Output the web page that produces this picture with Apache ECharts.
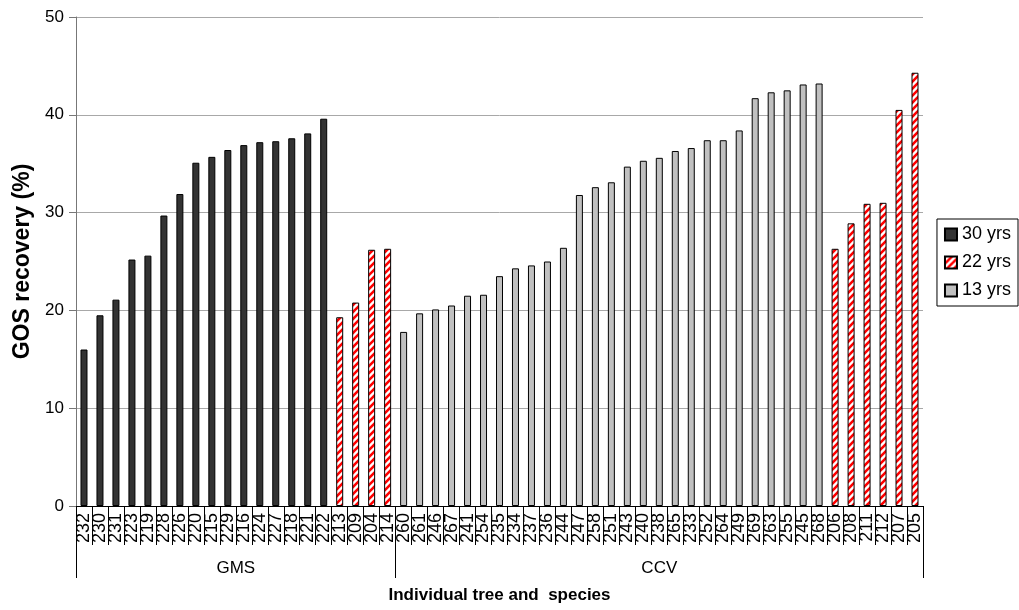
<!DOCTYPE html>
<html>
<head>
<meta charset="utf-8">
<script src="https://cdn.jsdelivr.net/npm/echarts@6/dist/echarts.min.js"></script>
<style>
  html, body { margin: 0; padding: 0; background: #fff; }
  #chart { width: 1019px; height: 610px; }
</style>
</head>
<body>
<div id="chart"></div>
<script>
// GMS trees
const gmsIds30 = ['232','230','231','223','219','228','226','220','215','229','216','224','227','218','221','222'];
const gmsVals30 = [16.0,19.5,21.1,25.2,25.6,29.7,31.9,35.1,35.7,36.4,36.9,37.2,37.3,37.6,38.1,39.6];
const gmsIds22 = ['213','209','204','214'];
const gmsVals22 = [19.3,20.8,26.2,26.3];
// CCV trees
const ccvIds13 = ['260','261','246','267','241','254','235','234','237','236','244','247','258','251','243','240','238','265','233','252','264','249','269','263','255','245','268'];
const ccvVals13 = [17.8,19.7,20.1,20.5,21.5,21.6,23.5,24.3,24.6,25.0,26.4,31.8,32.6,33.1,34.7,35.3,35.6,36.3,36.6,37.4,37.4,38.4,41.7,42.3,42.5,43.1,43.2];
const ccvIds22 = ['206','208','211','212','207','205'];
const ccvVals22 = [26.3,28.9,30.9,31.0,40.5,44.3];

const groupNames = ['GMS', 'CCV'];
const seriesNames = ['30 yrs', '22 yrs', '13 yrs'];
const yTicks = [0, 10, 20, 30, 40, 50];

const categories = [].concat(gmsIds30, gmsIds22, ccvIds13, ccvIds22);
const nCat = categories.length;
const groupSizes = [gmsIds30.length + gmsIds22.length, ccvIds13.length + ccvIds22.length];

// place a block of values at a given offset in a full-length column
function column(offset, vals) {
  const out = new Array(nCat).fill(null);
  vals.forEach((v, i) => { out[offset + i] = v; });
  return out;
}
const o1 = gmsIds30.length;
const o2 = o1 + gmsIds22.length;
const o3 = o2 + ccvIds13.length;
const ccv22Col = column(o3, ccvVals22);
const data30 = column(0, gmsVals30);
const data22 = column(o1, gmsVals22).map((v, i) => v !== null ? v : ccv22Col[i]);
const data13 = column(o2, ccvVals13);

// group boundaries and centres on a 0..nCat scale
const bounds = [0];
groupSizes.forEach(s => bounds.push(bounds[bounds.length - 1] + s));
const centres = groupNames.map((_, i) => (bounds[i] + bounds[i + 1]) / 2);

// red / white diagonal hatch
function hatch() {
  const s = 7;
  const c = document.createElement('canvas');
  c.width = s; c.height = s;
  const g = c.getContext('2d');
  g.fillStyle = '#ffffff';
  g.fillRect(0, 0, s, s);
  g.strokeStyle = '#ff0000';
  g.lineWidth = 2.6;
  g.beginPath();
  g.moveTo(-1, s + 1); g.lineTo(s + 1, -1);
  g.moveTo(-1, 1); g.lineTo(1, -1);
  g.moveTo(s - 1, s + 1); g.lineTo(s + 1, s - 1);
  g.stroke();
  return c;
}

const FONT = 'Liberation Sans, Arial, sans-serif';
const chart = echarts.init(document.getElementById('chart'), null, { renderer: 'canvas' });

const barBase = { type: 'bar', barWidth: 7, barGap: '-100%', animation: false };

chart.setOption({
  backgroundColor: '#ffffff',
  textStyle: { fontFamily: FONT },
  grid: { left: 76, right: 96, top: 17, bottom: 104 },
  legend: {
    orient: 'vertical',
    right: 1,
    top: 219,
    data: seriesNames,
    icon: 'rect',
    itemWidth: 12,
    itemHeight: 12,
    itemGap: 9,
    padding: [6, 7, 6, 7],
    borderColor: '#000',
    borderWidth: 1,
    textStyle: { fontFamily: FONT, fontSize: 18, color: '#000', lineHeight: 19 }
  },
  xAxis: [
    {
      type: 'category',
      data: categories,
      axisLine: { lineStyle: { color: '#000', width: 1 } },
      axisTick: { show: true, interval: 0, length: 39, lineStyle: { color: '#000' } },
      axisLabel: { interval: 0, rotate: 90, fontSize: 18, color: '#000', margin: 7, fontFamily: FONT },
      name: 'Individual tree and  species',
      nameLocation: 'middle',
      nameGap: 81,
      nameTextStyle: { fontSize: 17, fontWeight: 'bold', color: '#000', fontFamily: FONT }
    },
    {
      type: 'value',
      min: 0,
      max: nCat,
      position: 'bottom',
      axisLine: { show: false },
      splitLine: { show: false },
      axisTick: { show: true, customValues: bounds, length: 72, lineStyle: { color: '#000' } },
      axisLabel: {
        customValues: centres,
        margin: 54,
        fontSize: 17,
        color: '#000',
        fontFamily: FONT,
        formatter: v => {
          const k = centres.indexOf(v);
          return k >= 0 ? groupNames[k] : '';
        }
      }
    }
  ],
  yAxis: {
    type: 'value',
    min: yTicks[0],
    max: yTicks[yTicks.length - 1],
    interval: 10,
    axisLine: { show: true, lineStyle: { color: '#777' } },
    axisTick: { show: true, length: 7, lineStyle: { color: '#777' } },
    axisLabel: { fontSize: 17, color: '#000', margin: 12, fontFamily: FONT },
    splitLine: { lineStyle: { color: '#a8a8a8', width: 1 } },
    name: 'GOS recovery (%)',
    nameLocation: 'middle',
    nameRotate: 90,
    nameGap: 42,
    nameTextStyle: { fontSize: 23, fontWeight: 'bold', color: '#000', fontFamily: FONT }
  },
  series: [
    Object.assign({}, barBase, {
      name: seriesNames[0], data: data30,
      itemStyle: { color: '#333333', borderColor: '#000', borderWidth: 1 }
    }),
    Object.assign({}, barBase, {
      name: seriesNames[1], data: data22,
      itemStyle: { color: { image: hatch(), repeat: 'repeat' }, borderColor: '#000', borderWidth: 1 }
    }),
    Object.assign({}, barBase, {
      name: seriesNames[2], data: data13,
      itemStyle: { color: '#c0c0c0', borderColor: '#000', borderWidth: 1 }
    })
  ]
});
</script>
</body>
</html>
